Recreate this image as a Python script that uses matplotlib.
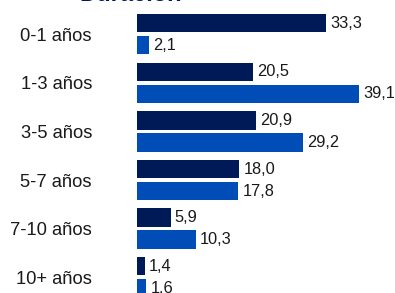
"""Duración: horizontal grouped bars by age range."""

import matplotlib

matplotlib.use("Agg")
import matplotlib.pyplot as plt

categories = ["0-1 años", "1-3 años", "3-5 años", "5-7 años", "7-10 años", "10+ años"]
series_dark = [33.3, 20.5, 20.9, 18.0, 5.9, 1.4]
series_light = [2.1, 39.1, 29.2, 17.8, 10.3, 1.6]

DARK = "#001A57"
LIGHT = "#004DB8"

plt.rcParams["font.family"] = ["Liberation Sans", "DejaVu Sans"]

W, H = 395, 293
fig = plt.figure(figsize=(W / 100, H / 100), dpi=100)
left_px = 137
ax = fig.add_axes([left_px / W, 0, (W - left_px) / W, 1])

px_per_unit = 5.68
group_px = 48.6
first_px = 34.2
ax.set_xlim(0, (W - left_px) / px_per_unit)
ax.set_ylim((H - first_px) / group_px, -first_px / group_px)

offset = 11 / group_px
height = 18.5 / group_px
pos = list(range(len(categories)))

ax.barh([p - offset for p in pos], series_dark, height=height, color=DARK)
ax.barh([p + offset for p in pos], series_light, height=height, color=LIGHT)

for p, v in zip(pos, series_dark):
    ax.annotate(f"{v:.1f}".replace(".", ","), (v, p - offset), xytext=(3, 0),
                textcoords="offset points", va="center", ha="left",
                fontsize=11.8, color="#1a1a1a", annotation_clip=False)
for p, v in zip(pos, series_light):
    ax.annotate(f"{v:.1f}".replace(".", ","), (v, p + offset), xytext=(3, 0),
                textcoords="offset points", va="center", ha="left",
                fontsize=11.8, color="#1a1a1a", annotation_clip=False)

ax.set_yticks(pos)
ax.set_yticklabels(categories, fontsize=13.2, color="#1a1a1a")
ax.tick_params(axis="y", length=0, pad=(left_px - 92) / (100 / 72))
ax.set_xticks([])
for spine in ax.spines.values():
    spine.set_visible(False)

fig.text(131 / W, 1 - 1 / H, "Duración", ha="center", va="baseline",
         fontsize=17, fontweight="bold", color=DARK)

fig.savefig("out.png", dpi=100)
